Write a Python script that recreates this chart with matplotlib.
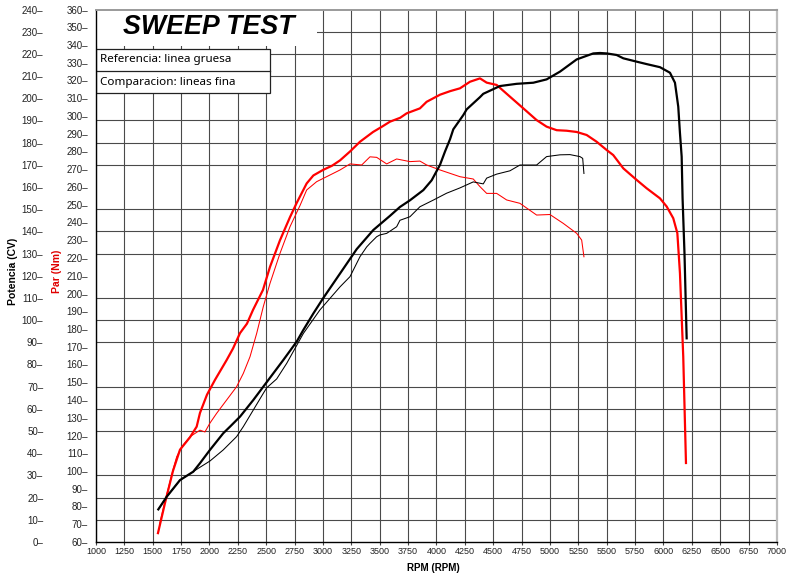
import matplotlib
matplotlib.use("Agg")
import matplotlib.pyplot as plt
from matplotlib.patches import Rectangle
from matplotlib.ticker import FixedLocator

# ---------------- data ----------------
ref_torque_rpm = [1546, 1608, 1678, 1740, 1828, 1887, 1916, 1978, 2048, 2151, 2207, 2269,
                  2330, 2383, 2471, 2533, 2621, 2709, 2768, 2856, 2915, 3000, 3080, 3150,
                  3238, 3326, 3441, 3520, 3590, 3680, 3737, 3854, 3913, 4031, 4120, 4207,
                  4295, 4383, 4442, 4530, 4647, 4765, 4882, 4970, 5059, 5147, 5235, 5323,
                  5411, 5500, 5557, 5646, 5763, 5851, 5969, 6028, 6086, 6122, 6145, 6160,
                  6174, 6198]
ref_torque_nm = [65, 82, 100, 112, 119, 125, 132.7, 143, 151.3, 162.5, 169, 177.7,
                 183, 190.7, 202, 215, 230, 243, 251, 262, 266.5, 269.6, 272, 275,
                 280, 285.5, 291, 294, 296.8, 299, 301.5, 304.3, 308, 312, 314, 315.6,
                 319.3, 321.2, 318.8, 317.5, 310.9, 304.3, 297.7, 294, 292, 291.7, 291, 289.3,
                 285.5, 280.8, 278, 270.5, 264, 259.3, 253.6, 249, 242.4, 234, 211.4, 187,
                 164.4, 104.5]

ref_power_rpm = [1549, 1623, 1740, 1857, 1916, 2004, 2121, 2181, 2269, 2386, 2474, 2650,
                 2768, 2826, 2915, 3003, 3150, 3297, 3443, 3590, 3678, 3766, 3884, 3957,
                 4031, 4075, 4119, 4148, 4236, 4266, 4383, 4412, 4559, 4706, 4765, 4853,
                 4970, 5088, 5235, 5381, 5440, 5500, 5587, 5646, 5763, 5851, 5969, 6057,
                 6101, 6130, 6145, 6160, 6168, 6185, 6204]
ref_power_cv = [14.7, 20.4, 27.9, 31.7, 35.5, 41.5, 49, 52, 56.5, 64, 70, 82,
                90.3, 95.5, 103, 110, 121, 132, 140.6, 147, 151, 154, 158.6, 163,
                170, 176, 181.5, 186, 192.4, 195, 200.5, 202, 205.5, 206.5, 206.7, 207,
                208.5, 212, 217.5, 220.2, 220.4, 220.2, 219.5, 218, 216.5, 215.4, 214, 211.5,
                207, 196.2, 184.3, 173.7, 155, 130, 91.8]

cmp_torque_rpm = [1560, 1620, 1680, 1711, 1760, 1828, 1880, 1916, 1960, 2004, 2063, 2151,
                  2239, 2298, 2357, 2416, 2474, 2533, 2621, 2709, 2797, 2856, 2944, 3091,
                  3150, 3238, 3341, 3414, 3473, 3561, 3649, 3766, 3854, 3913, 4031, 4119,
                  4207, 4324, 4383, 4442, 4530, 4618, 4735, 4882, 4999, 5117, 5235, 5279,
                  5299]
cmp_torque_nm = [70, 86, 101, 108, 114, 119.3, 121.5, 123, 122, 127, 132.5, 140,
                 147.5, 155, 164.4, 177.6, 192.6, 205.7, 222.6, 237.6, 249.5, 258.3, 263, 267.7,
                 269.6, 273, 272.4, 277, 276.7, 273, 275.8, 274.3, 274.6, 272.4, 269.6, 267.7,
                 265.8, 264.5, 260.2, 256.4, 256.4, 252.7, 250.8, 244.2, 244.5, 239.5, 233.9, 230.1,
                 220.7]

cmp_power_rpm = [1549, 1623, 1740, 1857, 1901, 2004, 2121, 2239, 2298, 2386, 2474, 2504,
                 2592, 2680, 2827, 2973, 3150, 3238, 3326, 3385, 3414, 3473, 3502, 3561,
                 3649, 3678, 3766, 3854, 3972, 4089, 4207, 4324, 4412, 4442, 4530, 4647,
                 4735, 4882, 4970, 5088, 5176, 5264, 5288, 5299]
cmp_power_cv = [14.7, 20.4, 27.9, 31.7, 33.2, 36.5, 41.5, 47.5, 52, 59.5, 67, 69.5,
                73.5, 80.5, 94, 104.6, 115, 119.6, 128.6, 133, 134.6, 137.6, 138.4, 139.1,
                142.1, 145, 146.6, 151.1, 154.1, 157.2, 159.6, 162.3, 161.4, 164, 165.8, 167.3,
                169.9, 169.9, 173.7, 174.5, 174.6, 173.7, 172.9, 166.1]

rpm_ticks = list(range(1000, 7001, 250))
torque_ticks = list(range(60, 361, 10))
power_ticks = list(range(0, 241, 10))

title_text = "SWEEP TEST"
legend_lines = ["Referencia: linea gruesa", "Comparacion: lineas fina"]

# ---------------- figure ----------------
plt.rcParams['font.family'] = ['Liberation Sans', 'DejaVu Sans']
fig = plt.figure(figsize=(7.9, 5.78), dpi=100)
ax = fig.add_axes([96 / 790, 36 / 578, 681 / 790, 532.5 / 578])
ax2 = ax.twinx()

ax.set_xlim(1000, 7000)
ax.set_ylim(60, 360)
ax2.set_ylim(0, 240)

grid_col = '#4a4a4a'
# vertical grid
ax.set_xticks(rpm_ticks)
ax.set_xticklabels([str(v) for v in rpm_ticks], fontsize=6.5, color='#222222')
ax.tick_params(axis='x', length=2, width=0.8, pad=1.5, color='#444444')
ax.grid(True, axis='x', which='major', color=grid_col, lw=0.8)
# horizontal grid aligned with power scale (every 10 CV)
ax.yaxis.set_minor_locator(FixedLocator([60 + 12.5 * k for k in range(1, 24)]))
ax.grid(True, axis='y', which='minor', color=grid_col, lw=0.8)
ax.tick_params(axis='y', which='minor', length=0)
ax.set_axisbelow(True)

# torque ticks
ax.set_yticks(torque_ticks)
ax.set_yticklabels([f"{v}\u2013" for v in torque_ticks], fontsize=7, color='#222222')
ax.tick_params(axis='y', which='major', length=0, pad=5.8)

# power ticks on left, outward
ax2.yaxis.tick_left()
ax2.spines['left'].set_position(('outward', 36))
ax2.set_yticks(power_ticks)
ax2.set_yticklabels([f"{v}\u2013" for v in power_ticks], fontsize=7, color='#222222')
ax2.tick_params(axis='y', length=0, pad=2)
for s in ax2.spines.values():
    s.set_visible(False)

# spines
ax.spines['left'].set_color('black')
ax.spines['left'].set_linewidth(1.0)
ax.spines['bottom'].set_color('black')
ax.spines['bottom'].set_linewidth(1.0)
ax.spines['top'].set_color('#9a9a9a')
ax.spines['top'].set_linewidth(1.4)
ax.spines['right'].set_color('#bdbdbd')
ax.spines['right'].set_linewidth(1.6)

# title box and legend box
ax.add_patch(Rectangle((0, 0.9315), 0.3245, 0.0685, transform=ax.transAxes,
                       facecolor='white', edgecolor='none', zorder=1.5))
ax.text(0.165, 0.9665, title_text, transform=ax.transAxes, fontsize=19.3,
        fontweight='bold', fontstyle='italic', ha='center', va='center', zorder=3)

box_w = 0.2555
ax.add_patch(Rectangle((0, 0.8432), box_w, 0.9258 - 0.8432, transform=ax.transAxes,
                       facecolor='white', edgecolor='#222222', lw=0.9, zorder=1.6))
ax.plot([0, box_w], [0.8845, 0.8845], transform=ax.transAxes, color='#222222', lw=0.9, zorder=1.7)
ax.text(0.006, 0.9052, legend_lines[0], transform=ax.transAxes, fontsize=8.4,
        family=['Noto Sans', 'DejaVu Sans'], ha='left', va='center', zorder=3)
ax.text(0.006, 0.8638, legend_lines[1], transform=ax.transAxes, fontsize=8.4,
        family=['Noto Sans', 'DejaVu Sans'], ha='left', va='center', zorder=3)

# curves
ax.plot(cmp_torque_rpm, cmp_torque_nm, color='#ff0000', lw=0.75, zorder=2.5)
ax.plot(ref_torque_rpm, ref_torque_nm, color='#ff0000', lw=1.6, zorder=2.6)
ax2.plot(cmp_power_rpm, cmp_power_cv, color='black', lw=0.75, zorder=2.5)
ax2.plot(ref_power_rpm, ref_power_cv, color='black', lw=1.6, zorder=2.6)

# axis labels
fig.text(13.5 / 790, 1 - 271 / 578, "Potencia (CV)", rotation=90, fontsize=7.5,
         fontweight='bold', color='black', ha='center', va='center')
fig.text(57 / 790, 1 - 271 / 578, "Par (Nm)", rotation=90, fontsize=7.5,
         fontweight='bold', color='#e00000', ha='center', va='center')
fig.text(433 / 790, 1 - 568 / 578, "RPM (RPM)", fontsize=7,
         fontweight='bold', color='black', ha='center', va='center')

fig.savefig("out.png", dpi=100, facecolor='white')
